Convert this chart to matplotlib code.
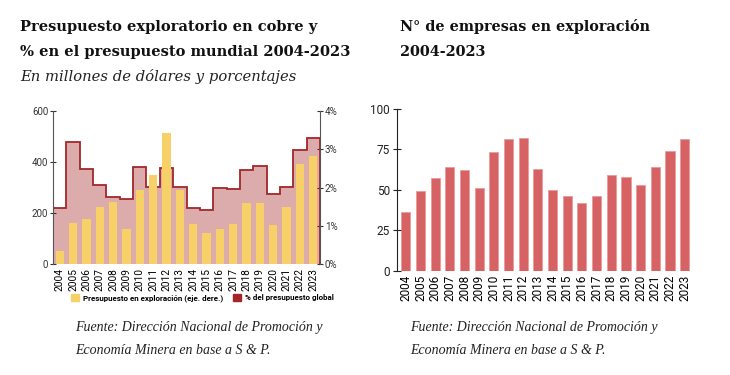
import matplotlib.pyplot as plt
from matplotlib.patches import Patch

years = list(range(2004, 2024))
labels = [str(y) for y in years]

# presupuesto exploratorio en cobre (MUS$)
budget = [52, 161, 178, 225, 243, 137, 290, 348, 512, 289,
          156, 122, 139, 157, 239, 239, 154, 225, 391, 424]
# % del presupuesto global
share = [1.47, 3.19, 2.49, 2.06, 1.75, 1.71, 2.54, 2.02, 2.50, 2.01,
         1.46, 1.40, 2.00, 1.96, 2.47, 2.57, 1.83, 2.02, 2.97, 3.29]
# n° de empresas en exploración
firms = [36, 49, 57, 64, 62, 51, 73, 81, 82, 63,
         50, 46, 42, 46, 59, 58, 53, 64, 74, 81]

yellow = '#f7d068'
darkred = '#a3272a'
pink = '#dcacad'
barred = '#d66263'

plt.rcParams['font.family'] = ['Roboto', 'DejaVu Sans']

fig = plt.figure(figsize=(7.3, 3.75), dpi=100)

# ---- left chart ----
ax = fig.add_axes([53/730, 1 - 264/375, 267/730, 153/375])
ax2 = ax.twinx()
x = list(range(len(years)))
edges = [i - 0.5 for i in x] + [x[-1] + 0.5]
ax2.stairs(share, edges, fill=True, color=pink, zorder=1)
ax2.stairs(share, edges, color=darkred, linewidth=1.3, zorder=3)
ax2.set_ylim(0, 4)
ax2.set_yticks([0, 1, 2, 3, 4])
ax2.set_yticklabels(['0%', '1%', '2%', '3%', '4%'])

ax.set_zorder(ax2.get_zorder() + 1)
ax.patch.set_visible(False)
ax.bar(x, budget, width=0.62, color=yellow, zorder=2)
ax.set_ylim(0, 600)
ax.set_yticks([0, 200, 400, 600])
ax.set_xlim(-0.5, len(years) - 0.5)
ax.set_xticks(x)
ax.set_xticklabels(labels, rotation=90)

for a in (ax, ax2):
    for s in ('top', 'bottom'):
        a.spines[s].set_visible(False)
    a.spines['left'].set_visible(a is ax)
    a.spines['right'].set_visible(a is ax2)
    a.spines['left'].set_color('#555555')
    a.spines['right'].set_color('#555555')
    a.tick_params(axis='y', length=5, direction='inout', colors='#333333',
                  labelsize=7, width=0.8)
ax.tick_params(axis='x', length=0, labelsize=7.3, pad=3)
ax2.tick_params(axis='y', pad=1)
ax.tick_params(axis='y', pad=1)

handles = [Patch(color=yellow), Patch(color=darkred)]
leg = fig.legend(handles, ['Presupuesto en exploración (eje. dere.)',
                           '% del presupuesto global'],
                 loc='center right', bbox_to_anchor=(341/730, 1 - 298/375),
                 ncol=2, frameon=False, handlelength=1.0,
                 handleheight=1.0, handletextpad=0.5, columnspacing=1.2,
                 prop={'weight': 'bold', 'size': 5.8})

# ---- right chart ----
bx = fig.add_axes([397/730, 1 - 270.7/375, 295/730, 162/375])
bx.bar(x, firms, width=0.62, color=barred, edgecolor='#ec9a9a',
       linewidth=0.6)
bx.set_ylim(0, 100)
bx.set_yticks([0, 25, 50, 75, 100])
bx.set_xlim(-0.6, len(years) - 0.5)
bx.set_xticks(x)
bx.set_xticklabels(labels, rotation=90)
for s in ('top', 'right', 'bottom'):
    bx.spines[s].set_visible(False)
bx.spines['left'].set_color('#222222')
bx.tick_params(axis='y', length=6, direction='inout', labelsize=8.5,
               colors='#222222', pad=2)
bx.tick_params(axis='x', length=0, labelsize=8.5, pad=3)

# ---- titles ----
serif = ['DejaVu Serif']
fig.text(20/730, 1 - 27/375, 'Presupuesto exploratorio en cobre y',
         family=serif, weight='bold', fontsize=10.5, va='center',
         color='#111111')
fig.text(20/730, 1 - 52/375, '% en el presupuesto mundial 2004-2023',
         family=serif, weight='bold', fontsize=10.5, va='center',
         color='#111111')
fig.text(20/730, 1 - 76/375, 'En millones de dólares y porcentajes',
         family=serif, style='italic', fontsize=10.6, va='center',
         color='#222222')
fig.text(400/730, 1 - 27/375, 'N° de empresas en exploración',
         family=serif, weight='bold', fontsize=10.4, va='center',
         color='#111111')
fig.text(400/730, 1 - 52/375, '2004-2023',
         family=serif, weight='bold', fontsize=10.4, va='center',
         color='#111111')

# ---- footers ----
foot = ['Liberation Serif']
for xp in (75, 410):
    fig.text(xp/730, 1 - 328/375, 'Fuente: Dirección Nacional de Promoción y',
             family=foot, style='italic', fontsize=10, va='center',
             color='#222222')
    fig.text(xp/730, 1 - 351/375, 'Economía Minera en base a S & P.',
             family=foot, style='italic', fontsize=10, va='center',
             color='#222222')

fig.savefig('out.png', dpi=100, facecolor='white')
